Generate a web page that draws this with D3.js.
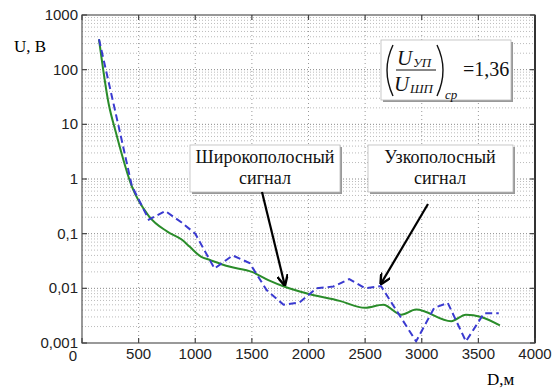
<!DOCTYPE html>
<html>
<head>
<meta charset="utf-8">
<script src="https://cdn.jsdelivr.net/npm/d3@7"></script>
<style>
body { margin: 0; background: #fff; }
.serif { font-family: "Liberation Serif", "Times New Roman", "DejaVu Serif", serif; }
.sans { font-family: "Liberation Sans", Arial, sans-serif; }
</style>
</head>
<body>
<div id="chart"></div>
<script>
// Wideband signal (green, solid)
const wideD = [150, 235, 300, 440, 590, 750, 880, 950, 1050, 1130, 1300, 1500, 1650, 1790, 1980, 2275, 2500, 2660, 2820, 2950, 3260, 3390, 3525, 3690];
const wideU = [360, 24, 7, 0.73, 0.21, 0.11, 0.078, 0.058, 0.038, 0.033, 0.025, 0.020, 0.014, 0.0107, 0.0081, 0.0059, 0.0044, 0.005, 0.0033, 0.0041, 0.0025, 0.0033, 0.003, 0.0021];

// Narrowband signal (blue, dashed)
const narrowD = [150, 330, 440, 590, 735, 880, 1000, 1170, 1330, 1480, 1630, 1780, 1920, 2070, 2220, 2360, 2500, 2640, 2950, 3110, 3230, 3390, 3550, 3680];
const narrowU = [360, 8, 0.75, 0.18, 0.26, 0.16, 0.1, 0.023, 0.04, 0.029, 0.0093, 0.005, 0.0055, 0.01, 0.0108, 0.0148, 0.01, 0.011, 0.00107, 0.0044, 0.0054, 0.00107, 0.0035, 0.0035];

const xTicks = [0, 500, 1000, 1500, 2000, 2500, 3000, 3500, 4000];
const yTicks = [1000, 100, 10, 1, 0.1, 0.01, 0.001];
const yTickLabels = ["1000", "100", "10", "1", "0,1", "0,01", "0,001"];

// Annotation arrow tips (data coordinates)
const wideTip = [1790, 0.0106];
const narrowTip = [2640, 0.0112];

const W = 558, H = 390;
const margin = {top: 15, right: 23, bottom: 47, left: 82};
const width = W - margin.left - margin.right;
const height = H - margin.top - margin.bottom;

const root = d3.select("#chart").append("svg")
    .attr("width", W)
    .attr("height", H);

const defs = root.append("defs");
defs.append("marker")
    .attr("id", "arrow")
    .attr("viewBox", "0 0 10 10")
    .attr("refX", 9).attr("refY", 5)
    .attr("markerWidth", 5).attr("markerHeight", 5)
    .attr("orient", "auto")
    .append("path")
    .attr("d", "M0,0 L10,5 L0,10")
    .attr("fill", "none")
    .attr("stroke", "#000")
    .attr("stroke-width", 2.2);

const svg = root.append("g")
    .attr("transform", `translate(${margin.left},${margin.top})`);

const x = d3.scaleLinear().domain([0, 4000]).range([0, width]);
const y = d3.scaleLog().domain([0.001, 1000]).range([height, 0]);

// Grid: minor log lines
const minor = [];
for (let k = -3; k < 3; k++) {
    for (let m = 2; m <= 9; m++) minor.push(m * Math.pow(10, k));
}
svg.append("g").selectAll("line")
    .data(minor)
    .join("line")
    .attr("x1", 0).attr("x2", width)
    .attr("y1", d => y(d)).attr("y2", d => y(d))
    .attr("stroke", "#aaa")
    .attr("stroke-width", 0.8)
    .attr("stroke-dasharray", "1,2");

svg.append("g").selectAll("line")
    .data(yTicks.slice(1, -1))
    .join("line")
    .attr("x1", 0).attr("x2", width)
    .attr("y1", d => y(d)).attr("y2", d => y(d))
    .attr("stroke", "#888")
    .attr("stroke-width", 1)
    .attr("stroke-dasharray", "1,2");

svg.append("g").selectAll("line")
    .data(xTicks.slice(1, -1))
    .join("line")
    .attr("x1", d => x(d)).attr("x2", d => x(d))
    .attr("y1", 0).attr("y2", height)
    .attr("stroke", "#999")
    .attr("stroke-width", 1)
    .attr("stroke-dasharray", "1,3");

// Lines
const line = d3.line()
    .x(d => x(d[0]))
    .y(d => y(d[1]))
    .curve(d3.curveMonotoneX);

svg.append("path")
    .datum(wideD.map((d, i) => [d, wideU[i]]))
    .attr("fill", "none")
    .attr("stroke", "#2a8c2a")
    .attr("stroke-width", 2)
    .attr("d", line);

svg.append("path")
    .datum(narrowD.map((d, i) => [d, narrowU[i]]))
    .attr("fill", "none")
    .attr("stroke", "#3a3ad0")
    .attr("stroke-width", 2)
    .attr("stroke-dasharray", "7,4")
    .attr("d", line.curve(d3.curveLinear));

// Frame and inward ticks
svg.append("rect")
    .attr("width", width).attr("height", height)
    .attr("fill", "none")
    .attr("stroke", "#555")
    .attr("stroke-width", 1.2);

svg.append("line")
    .attr("x1", width).attr("x2", width)
    .attr("y1", 0).attr("y2", height)
    .attr("stroke", "#333").attr("stroke-width", 2);

const tickG = svg.append("g").attr("stroke", "#444").attr("stroke-width", 1.2);
xTicks.forEach(t => {
    tickG.append("line").attr("x1", x(t)).attr("x2", x(t)).attr("y1", height).attr("y2", height - 5);
    tickG.append("line").attr("x1", x(t)).attr("x2", x(t)).attr("y1", 0).attr("y2", 5);
});
yTicks.forEach(t => {
    tickG.append("line").attr("x1", 0).attr("x2", 5).attr("y1", y(t)).attr("y2", y(t));
    tickG.append("line").attr("x1", width).attr("x2", width - 5).attr("y1", y(t)).attr("y2", y(t));
});

// Tick labels
svg.append("g").selectAll("text")
    .data(xTicks)
    .join("text")
    .attr("class", "sans")
    .attr("x", d => d === 0 ? x(d) - 9 : x(d))
    .attr("y", d => d === 0 ? height + 18 : height + 16)
    .attr("text-anchor", "middle")
    .attr("font-size", 15)
    .attr("fill", "#222")
    .text(d => d);

svg.append("g").selectAll("text")
    .data(yTicks)
    .join("text")
    .attr("class", "sans")
    .attr("x", -4)
    .attr("y", d => y(d) + 5)
    .attr("text-anchor", "end")
    .attr("font-size", 15)
    .attr("fill", "#222")
    .text((d, i) => yTickLabels[i]);

// Axis titles
root.append("text")
    .attr("class", "serif")
    .attr("x", 14).attr("y", 52)
    .attr("font-size", 17)
    .text("U, B");

root.append("text")
    .attr("class", "serif")
    .attr("x", 487).attr("y", 385)
    .attr("font-size", 17)
    .text("D,м");

// Boxes with shadow
function box(x0, y0, w, h) {
    root.append("rect")
        .attr("x", x0 + 2).attr("y", y0 + 2)
        .attr("width", w).attr("height", h)
        .attr("fill", "#999");
    root.append("rect")
        .attr("x", x0).attr("y", y0)
        .attr("width", w).attr("height", h)
        .attr("fill", "#fff")
        .attr("stroke", "#bbb")
        .attr("stroke-width", 0.8);
}

// Formula box
box(381, 40, 130, 60);
const f = root.append("g")
    .attr("class", "serif")
    .attr("fill", "#111");
f.append("path").attr("d", "M393,45 Q381,70 393,96")
    .attr("fill", "none").attr("stroke", "#111").attr("stroke-width", 1.4);
f.append("path").attr("d", "M437,45 Q449,70 437,96")
    .attr("fill", "none").attr("stroke", "#111").attr("stroke-width", 1.4);
f.append("text").attr("x", 397).attr("y", 65)
    .attr("font-size", 21).attr("font-style", "italic").text("U");
f.append("text").attr("x", 413).attr("y", 67)
    .attr("font-size", 13).attr("font-style", "italic").text("УП");
f.append("line").attr("x1", 396).attr("x2", 436).attr("y1", 70).attr("y2", 70)
    .attr("stroke", "#111").attr("stroke-width", 1.2);
f.append("text").attr("x", 394).attr("y", 91)
    .attr("font-size", 21).attr("font-style", "italic").text("U");
f.append("text").attr("x", 410).attr("y", 93)
    .attr("font-size", 13).attr("font-style", "italic").text("ШП");
f.append("text").attr("x", 445).attr("y", 99)
    .attr("font-size", 13).attr("font-style", "italic").text("ср");
f.append("text").attr("x", 463).attr("y", 76)
    .attr("font-size", 20).text("=1,36");

// Annotation boxes
box(190, 145, 150, 47);
box(368, 145, 145, 47);

const ann = [
    {cx: 265, lines: ["Широкополосный", "сигнал"]},
    {cx: 440, lines: ["Узкополосный", "сигнал"]}
];
ann.forEach(a => {
    a.lines.forEach((t, i) => {
        root.append("text")
            .attr("class", "serif")
            .attr("x", a.cx).attr("y", 163 + i * 21)
            .attr("text-anchor", "middle")
            .attr("font-size", 18)
            .attr("fill", "#111")
            .text(t);
    });
});

// Arrows
root.append("line")
    .attr("x1", 262).attr("y1", 192)
    .attr("x2", margin.left + x(wideTip[0])).attr("y2", margin.top + y(wideTip[1]) - 2)
    .attr("stroke", "#000").attr("stroke-width", 2.2)
    .attr("marker-end", "url(#arrow)");

root.append("line")
    .attr("x1", 428).attr("y1", 204)
    .attr("x2", margin.left + x(narrowTip[0])).attr("y2", margin.top + y(narrowTip[1]) - 2)
    .attr("stroke", "#000").attr("stroke-width", 2.2)
    .attr("marker-end", "url(#arrow)");
</script>
</body>
</html>
